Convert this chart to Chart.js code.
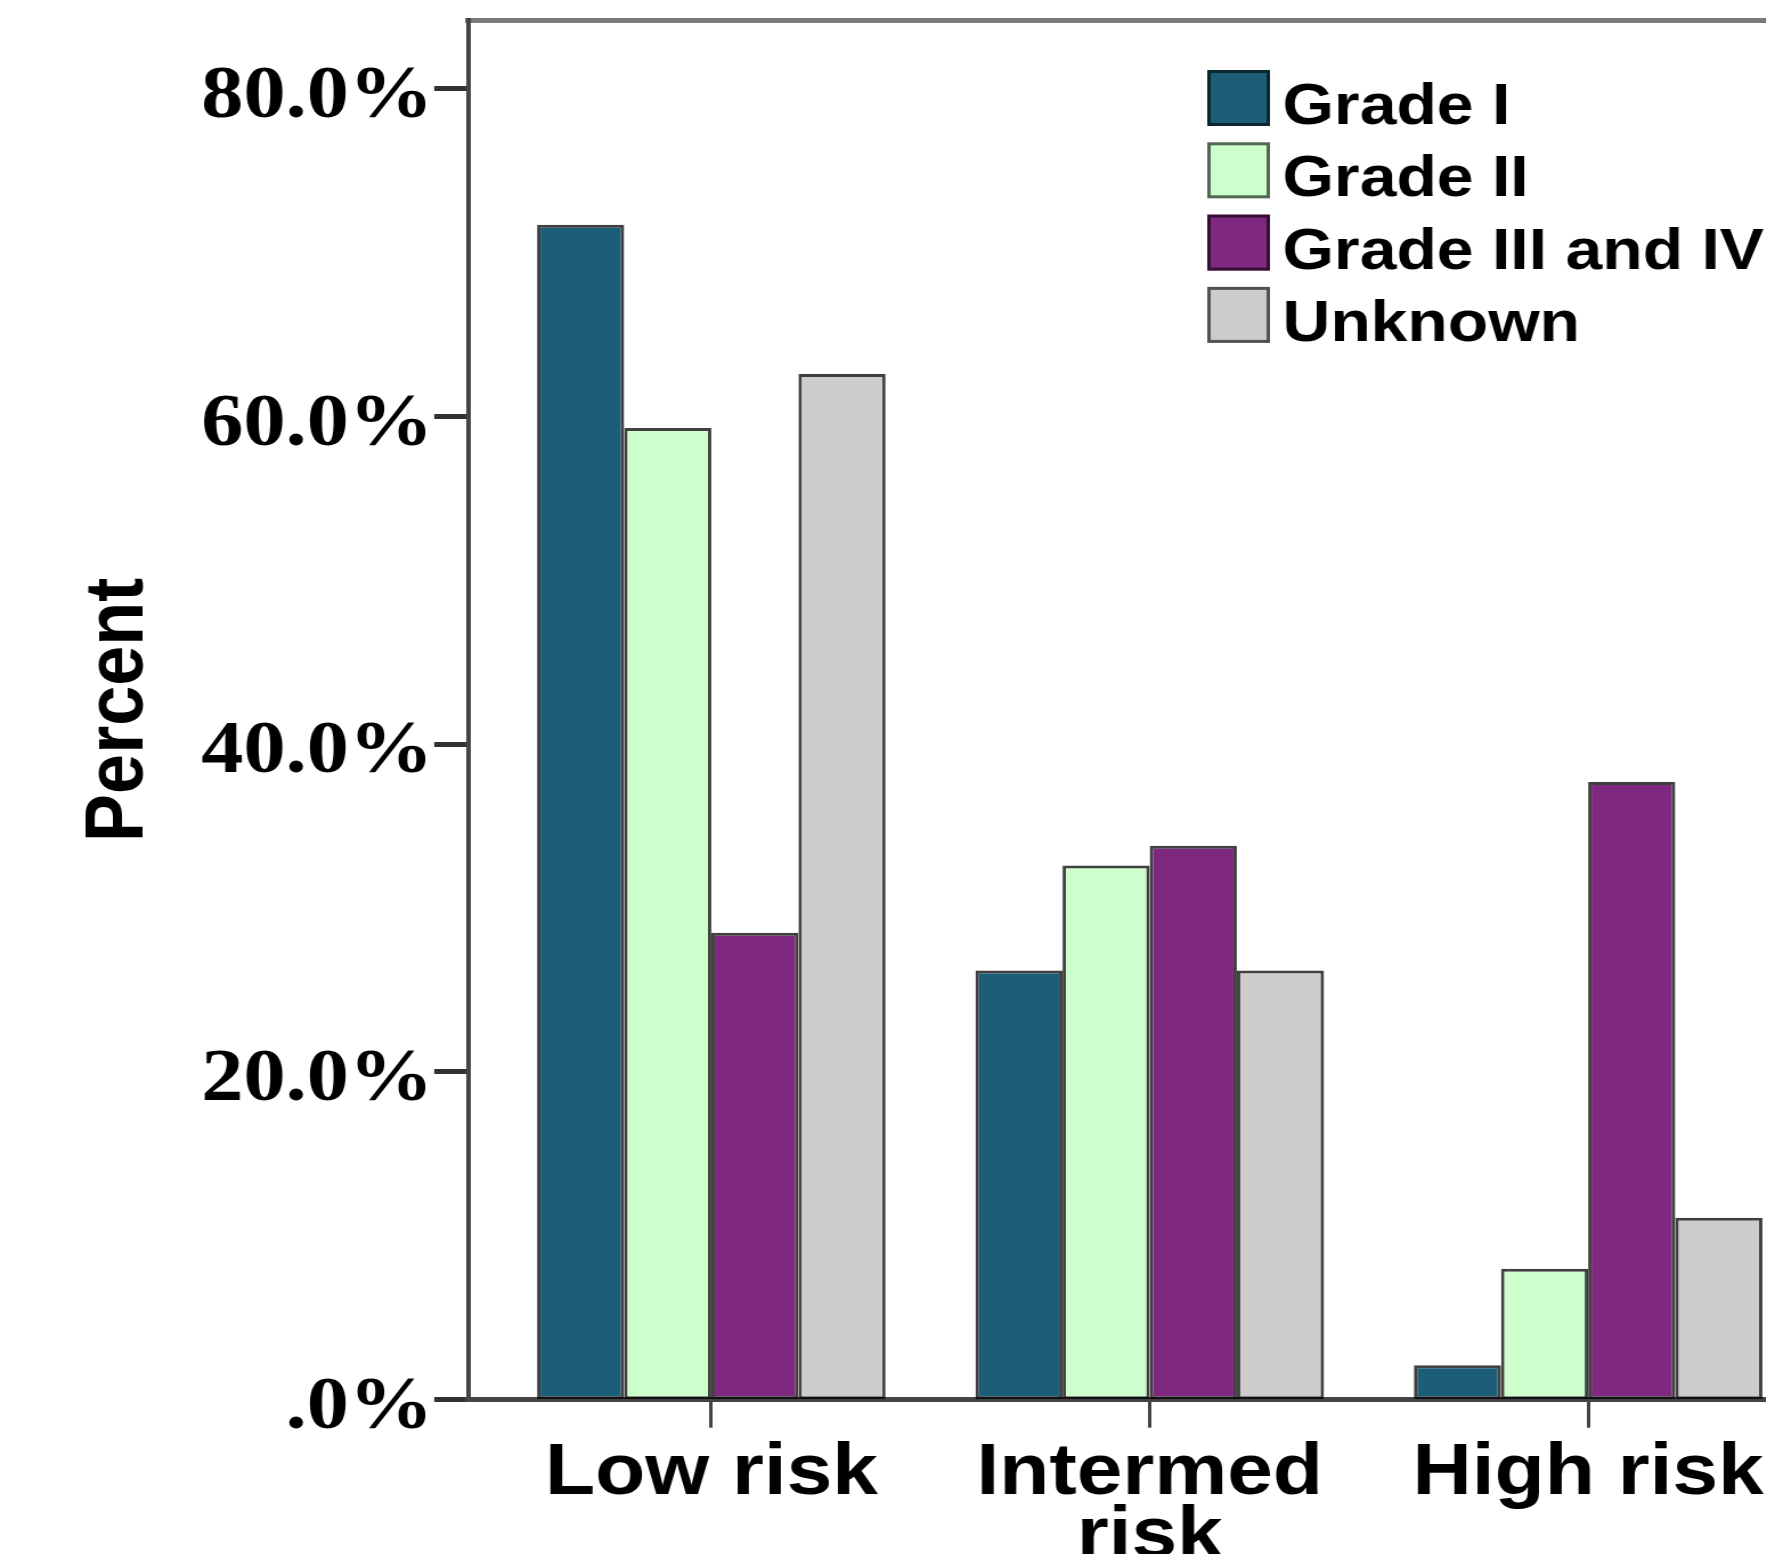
<!DOCTYPE html>
<html>
<head>
<meta charset="utf-8">
<title>Grade by risk group</title>
<script src="https://cdn.jsdelivr.net/npm/chart.js@4.4.1/dist/chart.umd.min.js"></script>
<style>
    html, body { margin: 0; padding: 0; background: #fff; overflow: hidden; }
    #wrap { width: 1766px; height: 1554px; overflow: hidden; position: relative; }
    /* the source picture is a little wider than its fonts: the canvas is drawn narrower and stretched,
       and it runs past the right and bottom edges like the cropped original */
    #chart { display: block; width: 1824px; height: 1583px; }
</style>
</head>
<body>
<div id="wrap"><canvas id="chart" width="1600" height="1583" style="width:1824px;height:1583px"></canvas></div>
<script>
// Risk groups (x axis)
const categories = ['Low risk', 'Intermed risk', 'High risk'];
const xTickLabels = ['Low risk', ['Intermed', 'risk'], 'High risk'];

// Y axis ticks
const yTicks = [0, 20, 40, 60, 80];
const yTickLabels = ['.0%', '20.0%', '40.0%', '60.0%', '80.0%'];

// Percent of each grade in every risk group
const gradeI = [71.7, 26.2, 2.1];
const gradeII = [59.3, 32.6, 8.0];
const gradeIIIandIV = [28.5, 33.8, 37.7];
const unknown = [62.6, 26.2, 11.1];

const seriesNames = ['Grade I', 'Grade II', 'Grade III and IV', 'Unknown'];
const seriesValues = [gradeI, gradeII, gradeIIIandIV, unknown];
const seriesColors = ['#1c5e77', '#ccffcc', '#7f287f', '#cccccc'];

// Legend drawn inside the plot, top right (as in the SPSS output)
const insideLegend = {
    id: 'insideLegend',
    afterDraw(chart, args, opts) {
        const ctx = chart.ctx;
        ctx.save();
        ctx.font = opts.font;
        ctx.textBaseline = 'alphabetic';
        ctx.textAlign = 'left';
        chart.data.datasets.forEach((ds, i) => {
            const top = opts.top + i * opts.rowHeight;
            ctx.fillStyle = ds.backgroundColor;
            ctx.fillRect(opts.left, top, opts.boxWidth, opts.boxHeight);
            ctx.lineWidth = 3;
            ctx.strokeStyle = 'rgba(0,0,0,0.6)';
            ctx.strokeRect(opts.left + 1.5, top + 1.5, opts.boxWidth - 3, opts.boxHeight - 3);
            ctx.fillStyle = '#000';
            ctx.fillText(ds.label, opts.left + opts.boxWidth + opts.gap, top + opts.textDrop);
        });
        ctx.restore();
    }
};

const ctx = document.getElementById('chart').getContext('2d');

const grafico = new Chart(ctx, {
    type: 'bar',
    data: {
        labels: categories.map((c, i) => i), // numeric positions on the linear x axis
        datasets: seriesNames.map((name, i) => ({
            label: name,
            data: seriesValues[i],
            backgroundColor: seriesColors[i],
            borderColor: 'rgba(0,0,0,0.75)',
            borderWidth: 3,
            borderSkipped: false,
            categoryPercentage: 0.795,
            barPercentage: 1.0
        }))
    },
    plugins: [insideLegend],
    options: {
        responsive: false,
        devicePixelRatio: 1,
        animation: false,
        events: [],
        layout: {
            padding: { left: 58, top: 20, right: 0, bottom: 0 }
        },
        scales: {
            x: {
                type: 'linear',
                position: 'bottom',
                offset: false,
                min: -0.554,
                max: 2.538,
                afterBuildTicks: axis => {
                    axis.ticks = categories.map((c, i) => ({ value: i }));
                },
                grid: {
                    display: true,
                    offset: false,
                    drawOnChartArea: false,
                    drawTicks: true,
                    tickLength: 28,
                    tickWidth: 3,
                    tickColor: '#444'
                },
                border: { display: true, color: '#444', width: 5 },
                ticks: {
                    autoSkip: false,
                    maxRotation: 0,
                    minRotation: 0,
                    padding: 15,
                    color: '#000',
                    font: { family: 'Liberation Sans', weight: 'bold', size: 72, lineHeight: 0.87 },
                    callback: (value, index) => xTickLabels[index]
                }
            },
            xTop: {
                type: 'linear',
                position: 'top',
                offset: false,
                min: -0.554,
                max: 2.538,
                grid: { display: false, drawTicks: false },
                border: { display: true, color: '#7a7a7a', width: 5 },
                ticks: { display: false }
            },
            y: {
                type: 'linear',
                min: 0,
                max: 84.2,
                afterBuildTicks: axis => {
                    axis.ticks = yTicks.map(v => ({ value: v }));
                },
                grid: {
                    display: true,
                    drawOnChartArea: false,
                    drawTicks: true,
                    tickLength: 30,
                    tickWidth: 5,
                    tickColor: '#333'
                },
                border: { display: true, color: '#444', width: 4 },
                ticks: {
                    padding: 1,
                    labelOffset: 9,
                    color: '#000',
                    font: { family: 'Liberation Serif', weight: 'bold', size: 74, lineHeight: 0.5 },
                    callback: (value, index) => yTickLabels[index]
                },
                title: {
                    display: true,
                    text: 'Percent',
                    color: '#000',
                    font: { family: 'Liberation Sans', weight: 'bold', size: 72 },
                    padding: { top: 4, bottom: 27 }
                }
            }
        },
        plugins: {
            legend: { display: false },
            tooltip: { enabled: false },
            insideLegend: {
                left: 1059,
                top: 70,
                boxWidth: 55,
                boxHeight: 56,
                rowHeight: 72.3,
                gap: 11,
                textDrop: 54,
                font: 'bold 58px "Liberation Sans"'
            }
        }
    }
});
</script>
</body>
</html>
